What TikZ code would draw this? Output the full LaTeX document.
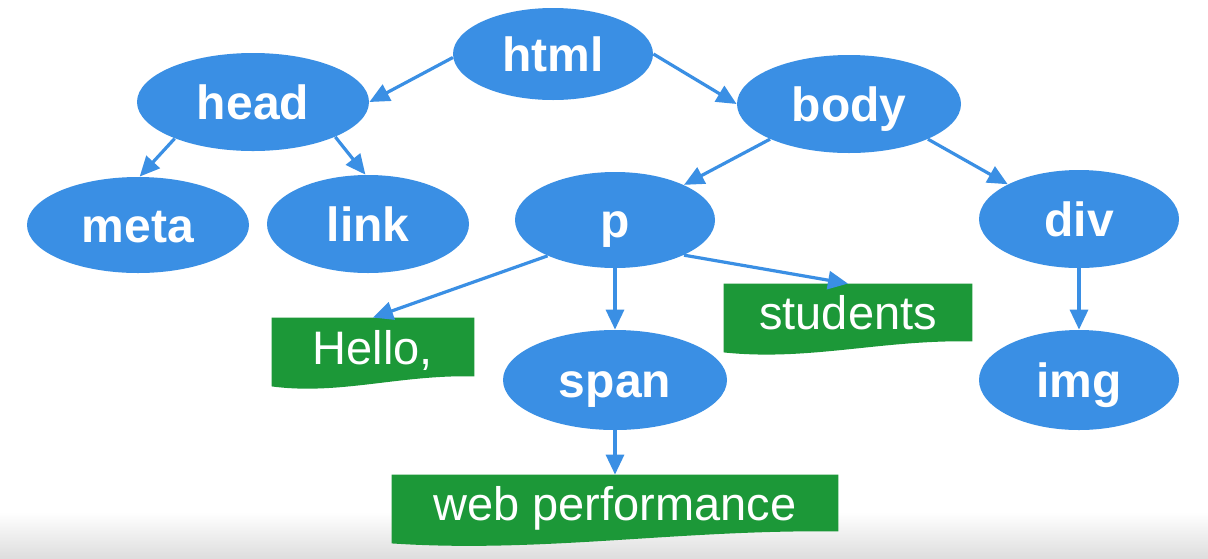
\documentclass[tikz,border=0pt]{standalone}
\usepackage{fontspec}
\setmainfont{Liberation Sans}
\usetikzlibrary{shapes.geometric,arrows.meta,backgrounds}
\definecolor{nodeblue}{RGB}{58,143,228}
\definecolor{leafgreen}{RGB}{28,152,56}
\begin{document}
\begin{tikzpicture}[x=0.5pt,y=-0.5pt,
  el/.style={ellipse, fill=nodeblue, inner sep=0pt, text=white,
    font=\fontsize{24}{28}\selectfont\bfseries, text height=17.3pt, text depth=0pt},
  leaf/.style={rectangle, inner sep=0pt, text=white,
    font=\fontsize{23.5}{28}\selectfont, text height=17pt, text depth=0pt},
  arr/.style={draw=nodeblue, line width=1.6pt, -{Triangle[length=10pt,width=9pt]}},
  leaffill/.style={fill=leafgreen}
]
\useasboundingbox (0,0) rectangle (1208,558);
\begin{scope}[on background layer]
  \fill[white] (0,0) rectangle (1208,558);
  \shade[top color=white, bottom color=black!13] (0,512) rectangle (1208,558);
\end{scope}

% element nodes
\node[el, minimum width=100pt, minimum height=46pt] (html) at (553,54) {html};
\node[el, minimum width=116pt, minimum height=49pt] (head) at (253,102) {head};
\node[el, minimum width=112pt, minimum height=49pt] (body) at (849,104) {body};
\node[el, minimum width=111pt, minimum height=48pt] (meta) at (138,225) {meta};
\node[el, minimum width=101pt, minimum height=49pt] (link) at (368,224) {link};
\node[el, minimum width=100pt, minimum height=48pt] (p) at (615,220) {p};
\node[el, minimum width=100pt, minimum height=49pt] (div) at (1079,219) {div};
\node[el, minimum width=112pt, minimum height=50pt] (span) at (615,380) {span};
\node[el, minimum width=100pt, minimum height=50pt] (img) at (1079,380) {img};

% text leaves
\node[leaf, minimum width=101pt, minimum height=29pt] (hello) at (373,347) {Hello,};
\node[leaf, minimum width=124pt, minimum height=28.5pt] (students) at (848,312.5) {students};
\node[leaf, minimum width=223pt, minimum height=28pt] (web) at (615,503) {web performance};

\begin{scope}[on background layer]
  \fill[leaffill] (hello.north west) -- (hello.north east) -- (hello.south east)
    .. controls +(-74,-2) and +(68,9) .. ([yshift=-5pt]hello.south west) -- cycle;
  \fill[leaffill] (students.north west) -- (students.north east) -- (students.south east)
    .. controls +(-90,-2) and +(85,9) .. ([yshift=-5.5pt]students.south west) -- cycle;
  \fill[leaffill] (web.north west) -- (web.north east) -- (web.south east)
    .. controls +(-160,-2) and +(150,10) .. ([yshift=-6pt]web.south west) -- cycle;
\end{scope}

% connectors
\draw[arr] (html.182) -- (head.east);
\draw[arr] (html.east) -- (body.west);
\draw[arr] (head.205) -- (meta.88);
\draw[arr] (head.337) -- (link.93);
\draw[arr] (body.204) -- (p.27);
\draw[arr] (body.336) -- (div.154);
\draw[arr] (p.208) -- (hello.north);
\draw[arr] (p.333) -- (students.north);
\draw[arr] (p.south) -- (span.north);
\draw[arr] (span.south) -- (web.north);
\draw[arr] (div.south) -- (img.north);
\end{tikzpicture}
\end{document}
